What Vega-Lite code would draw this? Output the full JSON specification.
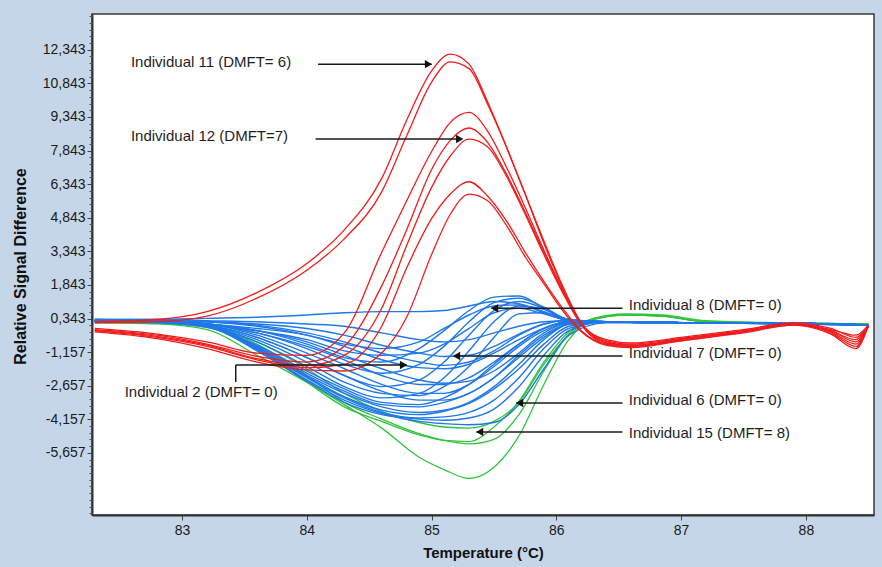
{
"$schema": "https://vega.github.io/schema/vega-lite/v6.json",
"width": 782, "height": 501,
"autosize": {"type": "none"},
"padding": {"left": 92, "top": 14, "right": 8, "bottom": 52},
"background": "#c5d6e8",
"config": {"view": {"fill": "white", "stroke": "#3a3a3a", "strokeWidth": 1.5}, "font": "Liberation Sans"},
"datasets": {
"red": [
{"s":"R1","t":82.3,"v":0.2},{"s":"R1","t":82.8,"v":0.3},{"s":"R1","t":83.2,"v":0.65},{"s":"R1","t":83.6,"v":1.5},{"s":"R1","t":84,"v":2.8},{"s":"R1","t":84.3,"v":4.3},{"s":"R1","t":84.6,"v":6.6},{"s":"R1","t":84.8,"v":9.2},{"s":"R1","t":85,"v":11.4},{"s":"R1","t":85.15,"v":12.15},{"s":"R1","t":85.3,"v":11.7},{"s":"R1","t":85.45,"v":10.0},{"s":"R1","t":85.6,"v":8.0},{"s":"R1","t":85.75,"v":5.9},{"s":"R1","t":85.9,"v":3.7},{"s":"R1","t":86.05,"v":1.7},{"s":"R1","t":86.2,"v":0.1},{"s":"R1","t":86.4,"v":-0.6},{"s":"R1","t":86.6,"v":-0.75},{"s":"R1","t":87,"v":-0.5},{"s":"R1","t":87.5,"v":-0.15},{"s":"R1","t":87.9,"v":0.15},{"s":"R1","t":88.2,"v":-0.1},{"s":"R1","t":88.4,"v":-0.5},{"s":"R1","t":88.5,"v":0.05},
{"s":"R2","t":82.3,"v":0.15},{"s":"R2","t":82.8,"v":0.2},{"s":"R2","t":83.2,"v":0.45},{"s":"R2","t":83.6,"v":1.25},{"s":"R2","t":84,"v":2.5},{"s":"R2","t":84.3,"v":3.9},{"s":"R2","t":84.6,"v":6.0},{"s":"R2","t":84.8,"v":8.5},{"s":"R2","t":85,"v":10.9},{"s":"R2","t":85.15,"v":11.8},{"s":"R2","t":85.3,"v":11.5},{"s":"R2","t":85.45,"v":9.9},{"s":"R2","t":85.6,"v":8.0},{"s":"R2","t":85.75,"v":5.9},{"s":"R2","t":85.9,"v":3.8},{"s":"R2","t":86.05,"v":1.8},{"s":"R2","t":86.2,"v":0.15},{"s":"R2","t":86.4,"v":-0.65},{"s":"R2","t":86.6,"v":-0.8},{"s":"R2","t":87,"v":-0.55},{"s":"R2","t":87.5,"v":-0.2},{"s":"R2","t":87.9,"v":0.1},{"s":"R2","t":88.2,"v":-0.2},{"s":"R2","t":88.4,"v":-0.7},{"s":"R2","t":88.5,"v":0.0},
{"s":"R3","t":82.3,"v":-0.1},{"s":"R3","t":82.8,"v":-0.35},{"s":"R3","t":83.2,"v":-0.7},{"s":"R3","t":83.6,"v":-1.2},{"s":"R3","t":84,"v":-1.3},{"s":"R3","t":84.3,"v":-0.3},{"s":"R3","t":84.6,"v":3.3},{"s":"R3","t":84.8,"v":5.6},{"s":"R3","t":85,"v":7.8},{"s":"R3","t":85.15,"v":9.1},{"s":"R3","t":85.3,"v":9.55},{"s":"R3","t":85.45,"v":8.7},{"s":"R3","t":85.6,"v":7.1},{"s":"R3","t":85.75,"v":5.3},{"s":"R3","t":85.9,"v":3.4},{"s":"R3","t":86.05,"v":1.6},{"s":"R3","t":86.2,"v":0.1},{"s":"R3","t":86.4,"v":-0.7},{"s":"R3","t":86.6,"v":-0.85},{"s":"R3","t":87,"v":-0.6},{"s":"R3","t":87.5,"v":-0.25},{"s":"R3","t":87.9,"v":0.1},{"s":"R3","t":88.2,"v":-0.15},{"s":"R3","t":88.4,"v":-0.4},{"s":"R3","t":88.5,"v":0.05},
{"s":"R4","t":82.3,"v":-0.15},{"s":"R4","t":82.8,"v":-0.4},{"s":"R4","t":83.2,"v":-0.8},{"s":"R4","t":83.6,"v":-1.35},{"s":"R4","t":84,"v":-1.6},{"s":"R4","t":84.3,"v":-0.9},{"s":"R4","t":84.6,"v":1.8},{"s":"R4","t":84.8,"v":4.3},{"s":"R4","t":85,"v":7.0},{"s":"R4","t":85.15,"v":8.3},{"s":"R4","t":85.3,"v":8.85},{"s":"R4","t":85.45,"v":8.2},{"s":"R4","t":85.6,"v":6.8},{"s":"R4","t":85.75,"v":5.1},{"s":"R4","t":85.9,"v":3.3},{"s":"R4","t":86.05,"v":1.6},{"s":"R4","t":86.2,"v":0.1},{"s":"R4","t":86.4,"v":-0.75},{"s":"R4","t":86.6,"v":-0.85},{"s":"R4","t":87,"v":-0.6},{"s":"R4","t":87.5,"v":-0.2},{"s":"R4","t":87.9,"v":0.1},{"s":"R4","t":88.2,"v":-0.2},{"s":"R4","t":88.4,"v":-0.6},{"s":"R4","t":88.5,"v":0.0},
{"s":"R5","t":82.3,"v":-0.2},{"s":"R5","t":82.8,"v":-0.45},{"s":"R5","t":83.2,"v":-0.85},{"s":"R5","t":83.6,"v":-1.45},{"s":"R5","t":84,"v":-1.75},{"s":"R5","t":84.3,"v":-1.3},{"s":"R5","t":84.6,"v":0.8},{"s":"R5","t":84.8,"v":3.6},{"s":"R5","t":85,"v":6.2},{"s":"R5","t":85.15,"v":7.6},{"s":"R5","t":85.3,"v":8.35},{"s":"R5","t":85.45,"v":8.0},{"s":"R5","t":85.6,"v":6.7},{"s":"R5","t":85.75,"v":5.0},{"s":"R5","t":85.9,"v":3.2},{"s":"R5","t":86.05,"v":1.5},{"s":"R5","t":86.2,"v":0.05},{"s":"R5","t":86.4,"v":-0.8},{"s":"R5","t":86.6,"v":-0.9},{"s":"R5","t":87,"v":-0.65},{"s":"R5","t":87.5,"v":-0.25},{"s":"R5","t":87.9,"v":0.05},{"s":"R5","t":88.2,"v":-0.25},{"s":"R5","t":88.4,"v":-0.8},{"s":"R5","t":88.5,"v":0.0},
{"s":"R6","t":82.3,"v":-0.2},{"s":"R6","t":82.8,"v":-0.5},{"s":"R6","t":83.2,"v":-0.9},{"s":"R6","t":83.6,"v":-1.5},{"s":"R6","t":84,"v":-1.85},{"s":"R6","t":84.3,"v":-1.7},{"s":"R6","t":84.6,"v":0.0},{"s":"R6","t":84.8,"v":2.6},{"s":"R6","t":85,"v":4.8},{"s":"R6","t":85.15,"v":5.9},{"s":"R6","t":85.3,"v":6.45},{"s":"R6","t":85.45,"v":5.8},{"s":"R6","t":85.6,"v":4.7},{"s":"R6","t":85.75,"v":3.3},{"s":"R6","t":85.9,"v":2.0},{"s":"R6","t":86.05,"v":0.8},{"s":"R6","t":86.2,"v":-0.2},{"s":"R6","t":86.4,"v":-0.8},{"s":"R6","t":86.6,"v":-0.9},{"s":"R6","t":87,"v":-0.6},{"s":"R6","t":87.5,"v":-0.25},{"s":"R6","t":87.9,"v":0.1},{"s":"R6","t":88.2,"v":-0.3},{"s":"R6","t":88.4,"v":-0.9},{"s":"R6","t":88.5,"v":0.0},
{"s":"R7","t":82.3,"v":-0.25},{"s":"R7","t":82.8,"v":-0.55},{"s":"R7","t":83.2,"v":-1.0},{"s":"R7","t":83.6,"v":-1.6},{"s":"R7","t":84,"v":-1.95},{"s":"R7","t":84.3,"v":-2.0},{"s":"R7","t":84.6,"v":-1.2},{"s":"R7","t":84.8,"v":0.4},{"s":"R7","t":85,"v":3.2},{"s":"R7","t":85.15,"v":5.0},{"s":"R7","t":85.3,"v":5.9},{"s":"R7","t":85.45,"v":5.6},{"s":"R7","t":85.6,"v":4.5},{"s":"R7","t":85.75,"v":3.1},{"s":"R7","t":85.9,"v":1.9},{"s":"R7","t":86.05,"v":0.7},{"s":"R7","t":86.2,"v":-0.25},{"s":"R7","t":86.4,"v":-0.85},{"s":"R7","t":86.6,"v":-0.95},{"s":"R7","t":87,"v":-0.65},{"s":"R7","t":87.5,"v":-0.3},{"s":"R7","t":87.9,"v":0.05},{"s":"R7","t":88.2,"v":-0.35},{"s":"R7","t":88.4,"v":-1.0},{"s":"R7","t":88.5,"v":0.0}
],
"green": [
{"s":"G1","t":82.3,"v":0.15},{"s":"G1","t":82.8,"v":0.1},{"s":"G1","t":83.2,"v":-0.15},{"s":"G1","t":83.6,"v":-1.3},{"s":"G1","t":84,"v":-2.5},{"s":"G1","t":84.3,"v":-3.5},{"s":"G1","t":84.6,"v":-4.55},{"s":"G1","t":84.9,"v":-5.85},{"s":"G1","t":85.1,"v":-6.4},{"s":"G1","t":85.3,"v":-6.8},{"s":"G1","t":85.5,"v":-6.3},{"s":"G1","t":85.7,"v":-4.9},{"s":"G1","t":85.9,"v":-2.6},{"s":"G1","t":86.1,"v":-0.6},{"s":"G1","t":86.3,"v":0.3},{"s":"G1","t":86.55,"v":0.5},{"s":"G1","t":86.85,"v":0.45},{"s":"G1","t":87.2,"v":0.2},{"s":"G1","t":87.8,"v":0.15},{"s":"G1","t":88.5,"v":0.1},
{"s":"G2","t":82.3,"v":0.2},{"s":"G2","t":82.8,"v":0.15},{"s":"G2","t":83.2,"v":0.0},{"s":"G2","t":83.6,"v":-0.8},{"s":"G2","t":84,"v":-2.2},{"s":"G2","t":84.3,"v":-3.4},{"s":"G2","t":84.6,"v":-4.15},{"s":"G2","t":84.9,"v":-4.8},{"s":"G2","t":85.1,"v":-5.1},{"s":"G2","t":85.3,"v":-5.25},{"s":"G2","t":85.5,"v":-5.05},{"s":"G2","t":85.7,"v":-3.95},{"s":"G2","t":85.9,"v":-2.0},{"s":"G2","t":86.1,"v":-0.35},{"s":"G2","t":86.3,"v":0.35},{"s":"G2","t":86.55,"v":0.55},{"s":"G2","t":86.85,"v":0.5},{"s":"G2","t":87.2,"v":0.25},{"s":"G2","t":87.8,"v":0.15},{"s":"G2","t":88.5,"v":0.1},
{"s":"G3","t":82.3,"v":0.2},{"s":"G3","t":82.8,"v":0.15},{"s":"G3","t":83.2,"v":-0.05},{"s":"G3","t":83.6,"v":-1.0},{"s":"G3","t":84,"v":-2.5},{"s":"G3","t":84.3,"v":-3.6},{"s":"G3","t":84.6,"v":-4.25},{"s":"G3","t":84.9,"v":-4.85},{"s":"G3","t":85.1,"v":-5.1},{"s":"G3","t":85.3,"v":-5.15},{"s":"G3","t":85.5,"v":-4.5},{"s":"G3","t":85.7,"v":-3.35},{"s":"G3","t":85.9,"v":-1.6},{"s":"G3","t":86.1,"v":-0.25},{"s":"G3","t":86.3,"v":0.35},{"s":"G3","t":86.55,"v":0.5},{"s":"G3","t":86.85,"v":0.45},{"s":"G3","t":87.2,"v":0.2},{"s":"G3","t":87.8,"v":0.15},{"s":"G3","t":88.5,"v":0.1},
{"s":"G4","t":82.3,"v":0.2},{"s":"G4","t":82.8,"v":0.15},{"s":"G4","t":83.2,"v":0.0},{"s":"G4","t":83.6,"v":-0.7},{"s":"G4","t":84,"v":-1.9},{"s":"G4","t":84.3,"v":-3.0},{"s":"G4","t":84.6,"v":-3.8},{"s":"G4","t":84.9,"v":-4.3},{"s":"G4","t":85.1,"v":-4.5},{"s":"G4","t":85.3,"v":-4.55},{"s":"G4","t":85.5,"v":-4.25},{"s":"G4","t":85.7,"v":-3.4},{"s":"G4","t":85.9,"v":-1.7},{"s":"G4","t":86.1,"v":-0.4},{"s":"G4","t":86.3,"v":0.3},{"s":"G4","t":86.55,"v":0.5},{"s":"G4","t":86.85,"v":0.45},{"s":"G4","t":87.2,"v":0.2},{"s":"G4","t":87.8,"v":0.15},{"s":"G4","t":88.5,"v":0.1}
],
"blue": [
{"s":"C1","t":82.3,"v":0.25},{"s":"C1","t":82.8,"v":0.2},{"s":"C1","t":83.2,"v":0.05},{"s":"C1","t":83.6,"v":-1.0},{"s":"C1","t":84,"v":-2.3},{"s":"C1","t":84.3,"v":-3.2},{"s":"C1","t":84.6,"v":-3.85},{"s":"C1","t":84.9,"v":-4.1},{"s":"C1","t":85.1,"v":-4.05},{"s":"C1","t":85.3,"v":-3.85},{"s":"C1","t":85.5,"v":-3.3},{"s":"C1","t":85.7,"v":-2.3},{"s":"C1","t":85.9,"v":-1.0},{"s":"C1","t":86.1,"v":-0.1},{"s":"C1","t":86.4,"v":0.2},{"s":"C1","t":87.2,"v":0.15},{"s":"C1","t":88,"v":0.1},{"s":"C1","t":88.5,"v":0.05},
{"s":"C2","t":82.3,"v":0.25},{"s":"C2","t":82.8,"v":0.2},{"s":"C2","t":83.2,"v":0.0},{"s":"C2","t":83.6,"v":-1.1},{"s":"C2","t":84,"v":-2.45},{"s":"C2","t":84.3,"v":-3.4},{"s":"C2","t":84.6,"v":-3.95},{"s":"C2","t":84.9,"v":-4.15},{"s":"C2","t":85.1,"v":-4.2},{"s":"C2","t":85.3,"v":-4.1},{"s":"C2","t":85.5,"v":-3.7},{"s":"C2","t":85.7,"v":-2.7},{"s":"C2","t":85.9,"v":-1.3},{"s":"C2","t":86.1,"v":-0.2},{"s":"C2","t":86.4,"v":0.2},{"s":"C2","t":87.2,"v":0.15},{"s":"C2","t":88,"v":0.1},{"s":"C2","t":88.5,"v":0.05},
{"s":"C3","t":82.3,"v":0.2},{"s":"C3","t":82.8,"v":0.2},{"s":"C3","t":83.2,"v":0.0},{"s":"C3","t":83.6,"v":-0.95},{"s":"C3","t":84,"v":-2.2},{"s":"C3","t":84.3,"v":-3.0},{"s":"C3","t":84.6,"v":-3.6},{"s":"C3","t":84.9,"v":-3.85},{"s":"C3","t":85.1,"v":-3.75},{"s":"C3","t":85.3,"v":-3.4},{"s":"C3","t":85.5,"v":-2.7},{"s":"C3","t":85.7,"v":-1.7},{"s":"C3","t":85.9,"v":-0.6},{"s":"C3","t":86.1,"v":0.1},{"s":"C3","t":86.4,"v":0.2},{"s":"C3","t":87.2,"v":0.15},{"s":"C3","t":88,"v":0.12},{"s":"C3","t":88.5,"v":0.05},
{"s":"C4","t":82.3,"v":0.25},{"s":"C4","t":82.8,"v":0.2},{"s":"C4","t":83.2,"v":0.05},{"s":"C4","t":83.6,"v":-0.9},{"s":"C4","t":84,"v":-2.1},{"s":"C4","t":84.3,"v":-2.9},{"s":"C4","t":84.6,"v":-3.5},{"s":"C4","t":84.9,"v":-3.6},{"s":"C4","t":85.1,"v":-3.4},{"s":"C4","t":85.3,"v":-3.0},{"s":"C4","t":85.5,"v":-2.3},{"s":"C4","t":85.7,"v":-1.4},{"s":"C4","t":85.9,"v":-0.5},{"s":"C4","t":86.1,"v":0.1},{"s":"C4","t":86.4,"v":0.2},{"s":"C4","t":87.2,"v":0.15},{"s":"C4","t":88,"v":0.12},{"s":"C4","t":88.5,"v":0.05},
{"s":"C5","t":82.3,"v":0.2},{"s":"C5","t":82.8,"v":0.15},{"s":"C5","t":83.2,"v":-0.05},{"s":"C5","t":83.6,"v":-1.05},{"s":"C5","t":84,"v":-2.4},{"s":"C5","t":84.3,"v":-3.3},{"s":"C5","t":84.6,"v":-3.9},{"s":"C5","t":84.9,"v":-4.25},{"s":"C5","t":85.1,"v":-4.35},{"s":"C5","t":85.3,"v":-4.4},{"s":"C5","t":85.5,"v":-4.3},{"s":"C5","t":85.7,"v":-3.5},{"s":"C5","t":85.9,"v":-1.9},{"s":"C5","t":86.1,"v":-0.4},{"s":"C5","t":86.4,"v":0.15},{"s":"C5","t":87.2,"v":0.15},{"s":"C5","t":88,"v":0.1},{"s":"C5","t":88.5,"v":0.05},
{"s":"C6","t":82.3,"v":0.2},{"s":"C6","t":82.8,"v":0.2},{"s":"C6","t":83.2,"v":0.0},{"s":"C6","t":83.6,"v":-0.85},{"s":"C6","t":84,"v":-2.0},{"s":"C6","t":84.3,"v":-2.8},{"s":"C6","t":84.6,"v":-3.4},{"s":"C6","t":84.9,"v":-3.5},{"s":"C6","t":85.1,"v":-3.2},{"s":"C6","t":85.3,"v":-2.6},{"s":"C6","t":85.5,"v":-1.7},{"s":"C6","t":85.7,"v":-0.8},{"s":"C6","t":85.9,"v":-0.1},{"s":"C6","t":86.1,"v":0.2},{"s":"C6","t":86.4,"v":0.2},{"s":"C6","t":87.2,"v":0.15},{"s":"C6","t":88,"v":0.12},{"s":"C6","t":88.5,"v":0.05},
{"s":"C7","t":82.3,"v":0.25},{"s":"C7","t":82.8,"v":0.2},{"s":"C7","t":83.2,"v":0.05},{"s":"C7","t":83.6,"v":-0.95},{"s":"C7","t":84,"v":-2.25},{"s":"C7","t":84.3,"v":-3.15},{"s":"C7","t":84.6,"v":-3.75},{"s":"C7","t":84.9,"v":-3.95},{"s":"C7","t":85.1,"v":-3.8},{"s":"C7","t":85.3,"v":-3.45},{"s":"C7","t":85.5,"v":-2.8},{"s":"C7","t":85.7,"v":-1.9},{"s":"C7","t":85.9,"v":-0.8},{"s":"C7","t":86.1,"v":0.0},{"s":"C7","t":86.4,"v":0.2},{"s":"C7","t":87.2,"v":0.15},{"s":"C7","t":88,"v":0.1},{"s":"C7","t":88.5,"v":0.05},
{"s":"B1","t":82.3,"v":0.25},{"s":"B1","t":82.8,"v":0.25},{"s":"B1","t":83.2,"v":0.2},{"s":"B1","t":83.6,"v":0.0},{"s":"B1","t":84,"v":-0.4},{"s":"B1","t":84.3,"v":-0.9},{"s":"B1","t":84.6,"v":-1.5},{"s":"B1","t":84.9,"v":-1.85},{"s":"B1","t":85.1,"v":-1.9},{"s":"B1","t":85.3,"v":-1.7},{"s":"B1","t":85.5,"v":-1.2},{"s":"B1","t":85.7,"v":-0.6},{"s":"B1","t":85.9,"v":-0.1},{"s":"B1","t":86.1,"v":0.2},{"s":"B1","t":86.4,"v":0.2},{"s":"B1","t":87.2,"v":0.15},{"s":"B1","t":88,"v":0.12},{"s":"B1","t":88.5,"v":0.05},
{"s":"B2","t":82.3,"v":0.3},{"s":"B2","t":82.8,"v":0.25},{"s":"B2","t":83.2,"v":0.2},{"s":"B2","t":83.6,"v":0.05},{"s":"B2","t":84,"v":-0.3},{"s":"B2","t":84.3,"v":-0.7},{"s":"B2","t":84.6,"v":-1.2},{"s":"B2","t":84.9,"v":-1.6},{"s":"B2","t":85.1,"v":-1.75},{"s":"B2","t":85.3,"v":-1.6},{"s":"B2","t":85.5,"v":-1.1},{"s":"B2","t":85.7,"v":-0.4},{"s":"B2","t":85.9,"v":0.1},{"s":"B2","t":86.1,"v":0.25},{"s":"B2","t":86.4,"v":0.2},{"s":"B2","t":87.2,"v":0.15},{"s":"B2","t":88,"v":0.12},{"s":"B2","t":88.5,"v":0.05},
{"s":"B3","t":82.3,"v":0.25},{"s":"B3","t":82.8,"v":0.2},{"s":"B3","t":83.2,"v":0.1},{"s":"B3","t":83.6,"v":-0.3},{"s":"B3","t":84,"v":-0.9},{"s":"B3","t":84.3,"v":-1.5},{"s":"B3","t":84.6,"v":-2.2},{"s":"B3","t":84.9,"v":-2.6},{"s":"B3","t":85.1,"v":-2.6},{"s":"B3","t":85.3,"v":-2.3},{"s":"B3","t":85.5,"v":-1.6},{"s":"B3","t":85.7,"v":-0.8},{"s":"B3","t":85.9,"v":-0.1},{"s":"B3","t":86.1,"v":0.2},{"s":"B3","t":86.4,"v":0.2},{"s":"B3","t":87.2,"v":0.15},{"s":"B3","t":88,"v":0.12},{"s":"B3","t":88.5,"v":0.05},
{"s":"B4","t":82.3,"v":0.25},{"s":"B4","t":82.8,"v":0.2},{"s":"B4","t":83.2,"v":0.1},{"s":"B4","t":83.6,"v":-0.2},{"s":"B4","t":84,"v":-0.7},{"s":"B4","t":84.3,"v":-1.3},{"s":"B4","t":84.6,"v":-1.9},{"s":"B4","t":84.9,"v":-2.4},{"s":"B4","t":85.1,"v":-2.55},{"s":"B4","t":85.3,"v":-2.45},{"s":"B4","t":85.5,"v":-2.0},{"s":"B4","t":85.7,"v":-1.2},{"s":"B4","t":85.9,"v":-0.3},{"s":"B4","t":86.1,"v":0.15},{"s":"B4","t":86.4,"v":0.2},{"s":"B4","t":87.2,"v":0.15},{"s":"B4","t":88,"v":0.12},{"s":"B4","t":88.5,"v":0.05},
{"s":"B5","t":82.3,"v":0.3},{"s":"B5","t":82.8,"v":0.25},{"s":"B5","t":83.2,"v":0.2},{"s":"B5","t":83.6,"v":0.1},{"s":"B5","t":84,"v":-0.1},{"s":"B5","t":84.3,"v":-0.4},{"s":"B5","t":84.6,"v":-0.85},{"s":"B5","t":84.9,"v":-1.2},{"s":"B5","t":85.1,"v":-1.35},{"s":"B5","t":85.3,"v":-1.3},{"s":"B5","t":85.5,"v":-0.9},{"s":"B5","t":85.7,"v":-0.35},{"s":"B5","t":85.9,"v":0.1},{"s":"B5","t":86.1,"v":0.25},{"s":"B5","t":86.4,"v":0.2},{"s":"B5","t":87.2,"v":0.15},{"s":"B5","t":88,"v":0.12},{"s":"B5","t":88.5,"v":0.05},
{"s":"B6","t":82.3,"v":0.25},{"s":"B6","t":82.8,"v":0.2},{"s":"B6","t":83.2,"v":0.1},{"s":"B6","t":83.6,"v":-0.4},{"s":"B6","t":84,"v":-1.2},{"s":"B6","t":84.3,"v":-1.9},{"s":"B6","t":84.6,"v":-2.6},{"s":"B6","t":84.9,"v":-3.0},{"s":"B6","t":85.1,"v":-3.0},{"s":"B6","t":85.3,"v":-2.6},{"s":"B6","t":85.5,"v":-1.8},{"s":"B6","t":85.7,"v":-0.9},{"s":"B6","t":85.9,"v":-0.2},{"s":"B6","t":86.1,"v":0.15},{"s":"B6","t":86.4,"v":0.2},{"s":"B6","t":87.2,"v":0.15},{"s":"B6","t":88,"v":0.12},{"s":"B6","t":88.5,"v":0.05},
{"s":"B7","t":82.3,"v":0.25},{"s":"B7","t":82.8,"v":0.2},{"s":"B7","t":83.2,"v":0.05},{"s":"B7","t":83.6,"v":-0.5},{"s":"B7","t":84,"v":-1.4},{"s":"B7","t":84.3,"v":-2.2},{"s":"B7","t":84.6,"v":-2.9},{"s":"B7","t":84.9,"v":-3.3},{"s":"B7","t":85.1,"v":-3.3},{"s":"B7","t":85.3,"v":-3.0},{"s":"B7","t":85.5,"v":-2.3},{"s":"B7","t":85.7,"v":-1.3},{"s":"B7","t":85.9,"v":-0.4},{"s":"B7","t":86.1,"v":0.1},{"s":"B7","t":86.4,"v":0.2},{"s":"B7","t":87.2,"v":0.15},{"s":"B7","t":88,"v":0.1},{"s":"B7","t":88.5,"v":0.05},
{"s":"A0","t":82.3,"v":0.3},{"s":"A0","t":82.8,"v":0.3},{"s":"A0","t":83.2,"v":0.35},{"s":"A0","t":83.6,"v":0.4},{"s":"A0","t":84,"v":0.5},{"s":"A0","t":84.3,"v":0.6},{"s":"A0","t":84.6,"v":0.65},{"s":"A0","t":84.9,"v":0.65},{"s":"A0","t":85.1,"v":0.7},{"s":"A0","t":85.3,"v":0.9},{"s":"A0","t":85.5,"v":1.1},{"s":"A0","t":85.7,"v":1.0},{"s":"A0","t":85.9,"v":0.6},{"s":"A0","t":86.1,"v":0.25},{"s":"A0","t":86.4,"v":0.2},{"s":"A0","t":87.2,"v":0.15},{"s":"A0","t":88,"v":0.12},{"s":"A0","t":88.5,"v":0.05},
{"s":"A1","t":82.3,"v":0.25},{"s":"A1","t":82.8,"v":0.2},{"s":"A1","t":83.2,"v":0.1},{"s":"A1","t":83.6,"v":-0.2},{"s":"A1","t":84,"v":-0.8},{"s":"A1","t":84.3,"v":-1.4},{"s":"A1","t":84.6,"v":-1.6},{"s":"A1","t":84.9,"v":-1.0},{"s":"A1","t":85.1,"v":-0.2},{"s":"A1","t":85.3,"v":0.7},{"s":"A1","t":85.5,"v":1.3},{"s":"A1","t":85.7,"v":1.35},{"s":"A1","t":85.9,"v":0.8},{"s":"A1","t":86.1,"v":0.25},{"s":"A1","t":86.4,"v":0.2},{"s":"A1","t":87.2,"v":0.15},{"s":"A1","t":88,"v":0.12},{"s":"A1","t":88.5,"v":0.05},
{"s":"A2","t":82.3,"v":0.25},{"s":"A2","t":82.8,"v":0.2},{"s":"A2","t":83.2,"v":0.1},{"s":"A2","t":83.6,"v":-0.3},{"s":"A2","t":84,"v":-1.0},{"s":"A2","t":84.3,"v":-1.7},{"s":"A2","t":84.6,"v":-2.1},{"s":"A2","t":84.9,"v":-1.7},{"s":"A2","t":85.1,"v":-0.9},{"s":"A2","t":85.3,"v":0.2},{"s":"A2","t":85.5,"v":1.05},{"s":"A2","t":85.7,"v":1.25},{"s":"A2","t":85.9,"v":0.85},{"s":"A2","t":86.1,"v":0.3},{"s":"A2","t":86.4,"v":0.2},{"s":"A2","t":87.2,"v":0.15},{"s":"A2","t":88,"v":0.12},{"s":"A2","t":88.5,"v":0.05},
{"s":"A3","t":82.3,"v":0.25},{"s":"A3","t":82.8,"v":0.2},{"s":"A3","t":83.2,"v":0.05},{"s":"A3","t":83.6,"v":-0.5},{"s":"A3","t":84,"v":-1.4},{"s":"A3","t":84.3,"v":-2.2},{"s":"A3","t":84.6,"v":-2.7},{"s":"A3","t":84.9,"v":-2.4},{"s":"A3","t":85.1,"v":-1.6},{"s":"A3","t":85.3,"v":-0.4},{"s":"A3","t":85.5,"v":0.7},{"s":"A3","t":85.7,"v":1.1},{"s":"A3","t":85.9,"v":0.8},{"s":"A3","t":86.1,"v":0.3},{"s":"A3","t":86.4,"v":0.2},{"s":"A3","t":87.2,"v":0.15},{"s":"A3","t":88,"v":0.12},{"s":"A3","t":88.5,"v":0.05},
{"s":"A4","t":82.3,"v":0.25},{"s":"A4","t":82.8,"v":0.2},{"s":"A4","t":83.2,"v":0.0},{"s":"A4","t":83.6,"v":-0.7},{"s":"A4","t":84,"v":-1.8},{"s":"A4","t":84.3,"v":-2.7},{"s":"A4","t":84.6,"v":-3.2},{"s":"A4","t":84.9,"v":-3.0},{"s":"A4","t":85.1,"v":-2.3},{"s":"A4","t":85.3,"v":-1.1},{"s":"A4","t":85.5,"v":0.2},{"s":"A4","t":85.7,"v":0.9},{"s":"A4","t":85.9,"v":0.75},{"s":"A4","t":86.1,"v":0.3},{"s":"A4","t":86.4,"v":0.2},{"s":"A4","t":87.2,"v":0.15},{"s":"A4","t":88,"v":0.12},{"s":"A4","t":88.5,"v":0.05},
{"s":"A5","t":82.3,"v":0.25},{"s":"A5","t":82.8,"v":0.2},{"s":"A5","t":83.2,"v":0.1},{"s":"A5","t":83.6,"v":-0.1},{"s":"A5","t":84,"v":-0.4},{"s":"A5","t":84.3,"v":-0.8},{"s":"A5","t":84.6,"v":-1.0},{"s":"A5","t":84.9,"v":-0.7},{"s":"A5","t":85.1,"v":-0.1},{"s":"A5","t":85.3,"v":0.5},{"s":"A5","t":85.5,"v":0.9},{"s":"A5","t":85.7,"v":0.95},{"s":"A5","t":85.9,"v":0.65},{"s":"A5","t":86.1,"v":0.25},{"s":"A5","t":86.4,"v":0.2},{"s":"A5","t":87.2,"v":0.15},{"s":"A5","t":88,"v":0.12},{"s":"A5","t":88.5,"v":0.05},
{"s":"A6","t":82.3,"v":0.25},{"s":"A6","t":82.8,"v":0.2},{"s":"A6","t":83.2,"v":0.05},{"s":"A6","t":83.6,"v":-0.6},{"s":"A6","t":84,"v":-1.6},{"s":"A6","t":84.3,"v":-2.5},{"s":"A6","t":84.6,"v":-3.0},{"s":"A6","t":84.9,"v":-3.1},{"s":"A6","t":85.1,"v":-2.7},{"s":"A6","t":85.3,"v":-1.8},{"s":"A6","t":85.5,"v":-0.5},{"s":"A6","t":85.7,"v":0.55},{"s":"A6","t":85.9,"v":0.6},{"s":"A6","t":86.1,"v":0.25},{"s":"A6","t":86.4,"v":0.2},{"s":"A6","t":87.2,"v":0.15},{"s":"A6","t":88,"v":0.12},{"s":"A6","t":88.5,"v":0.05},
{"s":"A7","t":82.3,"v":0.25},{"s":"A7","t":82.8,"v":0.2},{"s":"A7","t":83.2,"v":0.1},{"s":"A7","t":83.6,"v":-0.2},{"s":"A7","t":84,"v":-0.6},{"s":"A7","t":84.3,"v":-1.1},{"s":"A7","t":84.6,"v":-1.3},{"s":"A7","t":84.9,"v":-1.2},{"s":"A7","t":85.1,"v":-0.8},{"s":"A7","t":85.3,"v":-0.1},{"s":"A7","t":85.5,"v":0.6},{"s":"A7","t":85.7,"v":0.8},{"s":"A7","t":85.9,"v":0.55},{"s":"A7","t":86.1,"v":0.25},{"s":"A7","t":86.4,"v":0.2},{"s":"A7","t":87.2,"v":0.15},{"s":"A7","t":88,"v":0.12},{"s":"A7","t":88.5,"v":0.05},
{"s":"D1","t":82.3,"v":0.3},{"s":"D1","t":82.8,"v":0.3},{"s":"D1","t":83.2,"v":0.25},{"s":"D1","t":83.6,"v":0.2},{"s":"D1","t":84,"v":0.1},{"s":"D1","t":84.3,"v":0.0},{"s":"D1","t":84.6,"v":-0.3},{"s":"D1","t":84.9,"v":-0.6},{"s":"D1","t":85.1,"v":-0.7},{"s":"D1","t":85.3,"v":-0.6},{"s":"D1","t":85.5,"v":-0.3},{"s":"D1","t":85.7,"v":0.0},{"s":"D1","t":85.9,"v":0.2},{"s":"D1","t":86.1,"v":0.25},{"s":"D1","t":86.4,"v":0.2},{"s":"D1","t":87.2,"v":0.15},{"s":"D1","t":88,"v":0.12},{"s":"D1","t":88.5,"v":0.05}
],
"labels": [
{"t":82.59,"v":11.79,"txt":"Individual 11 (DMFT= 6)"},
{"t":82.59,"v":8.49,"txt":"Individual 12 (DMFT=7)"},
{"t":82.54,"v":-2.92,"txt":"Individual 2 (DMFT= 0)"},
{"t":86.58,"v":0.95,"txt":"Individual 8 (DMFT= 0)"},
{"t":86.58,"v":-1.2,"txt":"Individual 7 (DMFT= 0)"},
{"t":86.58,"v":-3.29,"txt":"Individual 6 (DMFT= 0)"},
{"t":86.58,"v":-4.77,"txt":"Individual 15 (DMFT= 8)"}
],
"arrows": [
{"t1":84.09,"t2":85.0,"v1":11.7,"v2":11.7},
{"t1":84.07,"t2":85.24,"v1":8.36,"v2":8.36},
{"t1":83.43,"t2":83.43,"v1":-2.49,"v2":-1.73},
{"t1":83.43,"t2":84.8,"v1":-1.73,"v2":-1.73},
{"t1":86.53,"t2":85.48,"v1":0.8,"v2":0.8},
{"t1":86.53,"t2":85.18,"v1":-1.33,"v2":-1.33},
{"t1":86.53,"t2":85.68,"v1":-3.43,"v2":-3.43},
{"t1":86.53,"t2":85.36,"v1":-4.72,"v2":-4.72}
],
"heads": [
{"t":84.975,"v":11.7,"sh":"triangle-right"},
{"t":85.225,"v":8.36,"sh":"triangle-right"},
{"t":84.775,"v":-1.73,"sh":"triangle-right"},
{"t":85.505,"v":0.8,"sh":"triangle-left"},
{"t":85.2,"v":-1.33,"sh":"triangle-left"},
{"t":85.705,"v":-3.43,"sh":"triangle-left"},
{"t":85.385,"v":-4.72,"sh":"triangle-left"}
]
},
"resolve": {"axis": {"x": "independent", "y": "independent"}},
"layer": [
{
"data": {"name": "green"},
"mark": {"type": "line", "interpolate": "monotone", "strokeWidth": 1.3, "color": "#2fc43c"},
"encoding": {
"x": {"field": "t", "type": "quantitative", "scale": {"domain": [82.278, 88.546], "nice": false, "zero": false},
"axis": {"orient": "bottom", "values": [83, 84, 85, 86, 87, 88], "format": "d", "tickSize": 5, "tickColor": "#444", "domainColor": "#333", "domainWidth": 2, "labelFont": "Liberation Sans", "labelFontSize": 14, "labelColor": "#1a1a1a", "labelPadding": 3, "labelOverlap": false, "grid": false,
"title": "Temperature (°C)", "titleFont": "Liberation Sans", "titleFontSize": 15, "titleFontWeight": "bold", "titleColor": "#111", "titleX": 391, "titleY": 37, "titleAlign": "center", "titleBaseline": "middle"}},
"y": {"field": "v", "type": "quantitative", "scale": {"domain": [-8.43, 13.94], "nice": false, "zero": false},
"axis": {"orient": "left", "values": [-5.657, -4.157, -2.657, -1.157, 0.343, 1.843, 3.343, 4.843, 6.343, 7.843, 9.343, 10.843, 12.343], "labelExpr": "replace(toString(datum.value), '.', ',')", "tickSize": 5, "tickColor": "#444", "domainColor": "#333", "domainWidth": 2, "labelFont": "Liberation Sans", "labelFontSize": 14, "labelColor": "#1a1a1a", "labelPadding": 2, "labelOverlap": false, "labelBound": false, "grid": false,
"title": "Relative Signal Difference", "titleFont": "Liberation Sans", "titleFontSize": 16, "titleFontWeight": "bold", "titleColor": "#111", "titleX": -72, "titleY": 252, "titleAngle": -90, "titleAlign": "center", "titleBaseline": "middle"}},
"detail": {"field": "s"}
}
},
{
"data": {"name": "blue"},
"mark": {"type": "line", "interpolate": "monotone", "strokeWidth": 1.4, "color": "#1f78e8"},
"encoding": {
"x": {"field": "t", "type": "quantitative", "axis": null},
"y": {"field": "v", "type": "quantitative",
"axis": {"orient": "left", "values": [-8.357, -8.057, -7.757, -7.457, -7.157, -6.857, -6.557, -6.257, -5.957, -5.357, -5.057, -4.757, -4.457, -3.857, -3.557, -3.257, -2.957, -2.357, -2.057, -1.757, -1.457, -0.857, -0.557, -0.257, 0.043, 0.643, 0.943, 1.243, 1.543, 2.143, 2.443, 2.743, 3.043, 3.643, 3.943, 4.243, 4.543, 5.143, 5.443, 5.743, 6.043, 6.643, 6.943, 7.243, 7.543, 8.143, 8.443, 8.743, 9.043, 9.643, 9.943, 10.243, 10.543, 11.143, 11.443, 11.743, 12.043, 12.643, 12.943, 13.243, 13.543, 13.843], "labels": false, "domain": false, "grid": false, "tickSize": 3, "tickColor": "#555", "title": null}},
"detail": {"field": "s"}
}
},
{
"data": {"name": "red"},
"mark": {"type": "line", "interpolate": "monotone", "strokeWidth": 1.3, "color": "#f01c1c"},
"encoding": {
"x": {"field": "t", "type": "quantitative", "axis": null},
"y": {"field": "v", "type": "quantitative", "axis": null},
"detail": {"field": "s"}
}
},
{
"data": {"name": "arrows"},
"mark": {"type": "rule", "color": "#1a1a1a", "strokeWidth": 1.5},
"encoding": {
"x": {"field": "t1", "type": "quantitative", "axis": null},
"x2": {"field": "t2"},
"y": {"field": "v1", "type": "quantitative", "axis": null},
"y2": {"field": "v2"}
}
},
{
"data": {"name": "heads"},
"mark": {"type": "point", "filled": true, "size": 70, "color": "#111", "opacity": 1},
"encoding": {
"x": {"field": "t", "type": "quantitative", "axis": null},
"y": {"field": "v", "type": "quantitative", "axis": null},
"shape": {"field": "sh", "type": "nominal", "scale": null, "legend": null}
}
},
{
"data": {"name": "labels"},
"mark": {"type": "text", "align": "left", "baseline": "middle", "font": "Liberation Sans", "fontSize": 15, "color": "#1e1e1e"},
"encoding": {
"x": {"field": "t", "type": "quantitative", "axis": null},
"y": {"field": "v", "type": "quantitative", "axis": null},
"text": {"field": "txt"}
}
}
]
}
